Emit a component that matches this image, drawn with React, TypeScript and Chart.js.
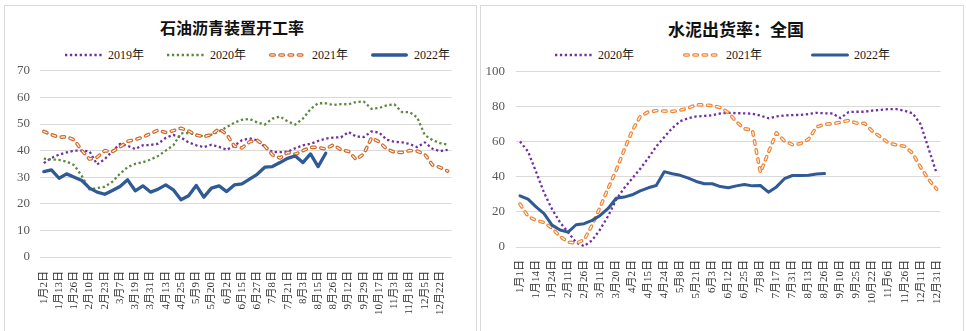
import React, { useEffect, useRef } from 'react';
import { Chart, registerables } from 'chart.js';

Chart.register(...registerables);

// ---------------- data: 石油沥青装置开工率 ----------------
const asphaltTitle = '石油沥青装置开工率';
const asphaltTickLabels = [
  '1月2日', '1月13日', '1月26日', '2月10日', '2月23日', '3月7日', '3月19日', '3月31日', '4月13日',
  '4月25日', '5月9日', '5月20日', '6月2日', '6月15日', '6月27日', '7月8日', '7月21日', '8月3日',
  '8月15日', '8月26日', '9月12日', '9月29日', '10月17日', '11月3日', '11月18日', '12月5日', '12月22日',
];
const asphaltSeriesNames = ['2019年', '2020年', '2021年', '2022年'];
const asphalt2019 = [
  35.3, 37.2, 38.5, 39.3, 40, 40, 39.7, 34.8, 36.8, 39.8,
  42.5, 41.8, 40.6, 42, 42.1, 42.6, 44.8, 45.9, 44.9, 43.1,
  42, 41.3, 42.2, 41.4, 40.3, 41.8, 43.9, 44.6, 43.9, 41.4,
  39.5, 39.4, 39.6, 40.9, 42, 42.6, 43.6, 44.5, 44.9, 45,
  47, 45.3, 45.1, 47.2, 46.8, 44.1, 43.3, 43.1, 42.5, 41.3,
  43.1, 40.7, 39.8, 40.3,
];
const asphalt2020 = [
  37.0, 36.7, 36.5, 35.9, 34.5, 30.4, 25.4, 25.9, 26.4, 28.3,
  31.3, 33.8, 35, 35.6, 36.6, 38, 40, 42, 46.5, 46.6,
  46, 45.4, 46, 47.2, 48.8, 50.5, 51.6, 51.9, 50.6, 49.8,
  52, 52.8, 51, 49.8, 52, 55.6, 57.8, 57.8, 57.1, 57.5,
  57.4, 58.3, 58.4, 55.7, 56, 57, 57.4, 54.5, 54.5, 52.5,
  45.8, 44, 42.8, 42.2,
];
const asphalt2021 = [
  47.2, 46, 45, 45.2, 44, 40, 36.8, 37.5, 40, 39.6,
  41.4, 43.5, 44.2, 45, 46.4, 47.7, 46.8, 47.5, 48.4, 47.4,
  45.8, 45.25, 46, 48.2, 46.1, 41.7, 41, 43.3, 43.9, 41.7,
  38.4, 37.2, 39.3, 38.6, 40, 41.2, 41.2, 40.6, 42.2, 40.3,
  39.7, 36.6, 38.8, 44.8, 43.3, 40.6, 39.4, 39.3, 40, 39.8,
  38.6, 34.6, 33.7, 32.3,
];
const asphalt2022 = [
  32.1, 32.75, 29.6, 31.25, 30.0, 28.75, 25.9, 24.4, 23.6, 25.0,
  26.5, 29, 24.9, 26.75, 24.4, 25.5, 27.1, 25.25, 21.5, 23,
  26.9, 22.5, 25.9, 26.75, 24.6, 27.1, 27.5, 29.3, 31.1, 33.75,
  34, 35.5, 37.1, 38, 35.5, 38.75, 34, 39,
];
const asphaltYMax = 70;
const asphaltYStep = 10;

// ---------------- data: 水泥出货率：全国 ----------------
const cementTitle = '水泥出货率：全国';
const cementTickLabels = [
  '1月1日', '1月14日', '1月24日', '2月11日', '2月26日', '3月11日', '3月20日', '4月2日', '4月15日',
  '4月24日', '5月8日', '5月21日', '6月3日', '6月12日', '6月25日', '7月8日', '7月17日', '7月31日',
  '8月13日', '8月26日', '9月10日', '9月25日', '10月22日', '11月6日', '11月26日', '12月11日', '12月31日',
];
const cementSeriesNames = ['2020年', '2021年', '2022年'];
const cement2020 = [
  60.2, 54.5, 43, 31, 21.6, 14, 8.4, 2.6, 0.5, 3.8,
  10, 17.7, 27, 33.6, 39.1, 44.7, 50.7, 57.4, 62.7, 67.9,
  71.8, 73.5, 74.5, 74.8, 75.2, 76.2, 76.6, 76.4, 76.3, 76.1,
  75, 73.5, 74.5, 75.1, 75.3, 75.4, 75.9, 76.6, 76.3, 76.2,
  73.6, 77, 77.2, 77.2, 77.9, 78.3, 78.7, 78.7, 77.8, 76.3,
  70, 56, 42,
];
const cement2021 = [
  24.5, 17.5, 15.2, 14, 10.7, 6, 2.8, 2.3, 4, 12.5,
  22.8, 33.5, 43.8, 55.4, 66.3, 74.5, 77.1, 77.8, 77.6, 77.4,
  78.1, 79.3, 81.2, 81.1, 80.7, 79.6, 76.7, 71.5, 67.5, 66.8,
  42.5, 54, 65.2, 60.5, 58.4, 59, 61.5, 68.5, 70, 70.4,
  71.2, 72.2, 70.7, 70.6, 66, 62.8, 59.3, 58.2, 57.5, 53.5,
  45.5, 38.5, 33,
];
const cement2022 = [
  29.2, 27.3, 22.9, 19.1, 12.5, 9.7, 8.5, 12.7, 13.3, 15.2,
  18, 22, 27.8, 28.5, 29.8, 32, 33.8, 35.1, 43, 41.8,
  40.9, 39.3, 37.4, 36.1, 36.1, 34.5, 33.8, 34.9, 35.7, 34.9,
  35.1, 31.3, 34.3, 39, 40.8, 40.8, 41, 41.7, 41.9,
];
const cementYMax = 100;
const cementYStep = 20;

// each shown date label is followed by one unlabeled week
const asphaltCategories = asphaltTickLabels.flatMap((l) => [l, '']);
const cementCategories = cementTickLabels.flatMap((l) => [l, '']).slice(0, cement2020.length);

// ---------------- styles ----------------
type LineStyle = {
  color: string;
  width: number;
  dash: number[];
  cap: 'butt' | 'round';
  hollow?: boolean;
  inner?: number;
};

const purpleDots: LineStyle = { color: '#7030A0', width: 2.3, dash: [2.3, 2.6], cap: 'butt' };
const greenDots: LineStyle = { color: '#5B8B3A', width: 2.3, dash: [2.3, 2.6], cap: 'butt' };
const orangeDarkDash: LineStyle = { color: '#D06A2A', width: 3.6, dash: [3.4, 5.8], cap: 'round', hollow: true, inner: 1.2 };
const orangeDash: LineStyle = { color: '#EE8535', width: 3.6, dash: [3.4, 5.8], cap: 'round', hollow: true, inner: 1.2 };
const blueSolid: LineStyle = { color: '#2F5A96', width: 3.3, dash: [], cap: 'round' };
const blueSolidR: LineStyle = { color: '#2F5A96', width: 3.0, dash: [], cap: 'round' };

const SERIF = '"Liberation Serif", "Noto Sans CJK SC", serif';
const CJK = '"Noto Sans CJK SC", "Liberation Serif", sans-serif';

function buildDatasets(names: string[], series: number[][], styles: LineStyle[]) {
  const out: any[] = [];
  series.forEach((data, k) => {
    const st = styles[k];
    const base = (series.length - k) * 2;
    out.push({
      label: names[k],
      data,
      borderColor: st.color,
      backgroundColor: st.color,
      borderWidth: st.width,
      borderDash: st.dash,
      borderCapStyle: st.cap,
      borderJoinStyle: 'round',
      pointRadius: 0,
      pointHoverRadius: 0,
      fill: false,
      tension: 0,
      order: base,
    });
    if (st.hollow) {
      out.push({
        label: names[k] + ' ',
        data,
        borderColor: '#ffffff',
        backgroundColor: '#ffffff',
        borderWidth: st.inner,
        borderDash: st.dash,
        borderCapStyle: st.cap,
        borderJoinStyle: 'round',
        pointRadius: 0,
        pointHoverRadius: 0,
        fill: false,
        tension: 0,
        order: base - 1,
      });
    }
  });
  return out;
}

type ChartProps = {
  left: number;
  top: number;
  width: number;
  height: number;
  categories: string[];
  names: string[];
  series: number[][];
  styles: LineStyle[];
  yMax: number;
  yStep: number;
  padRight: number;
  axisWidth: number;
  xAxisHeight: number;
  yTickPad: number;
  xTickPad: number;
};

function LineChart(p: ChartProps) {
  const ref = useRef<HTMLCanvasElement>(null);
  useEffect(() => {
    const chart = new Chart(ref.current as HTMLCanvasElement, {
      type: 'line',
      data: { labels: p.categories, datasets: buildDatasets(p.names, p.series, p.styles) },
      options: {
        animation: false,
        responsive: false,
        maintainAspectRatio: false,
        devicePixelRatio: 1,
        layout: { padding: { top: 0, right: p.padRight, bottom: 0, left: 0 } },
        plugins: {
          legend: { display: false },
          title: { display: false },
          tooltip: { enabled: false },
        },
        scales: {
          x: {
            type: 'category',
            offset: true,
            grid: { display: false, drawTicks: false },
            border: { display: false },
            ticks: {
              autoSkip: false,
              minRotation: 90,
              maxRotation: 90,
              padding: p.xTickPad,
              color: '#333333',
              font: { family: SERIF, size: 11 },
            },
            afterFit: (s: any) => {
              s.height = p.xAxisHeight;
            },
          },
          y: {
            min: 0,
            max: p.yMax,
            grid: { color: '#d9d9d9', lineWidth: 1, drawTicks: false },
            border: { display: false },
            ticks: {
              stepSize: p.yStep,
              padding: p.yTickPad,
              color: '#595959',
              font: { family: SERIF, size: 13 },
            },
            afterFit: (s: any) => {
              s.width = p.axisWidth;
            },
          },
        },
      } as any,
    });
    return () => chart.destroy();
  }, []);
  return (
    <canvas
      ref={ref}
      width={p.width}
      height={p.height}
      style={{ position: 'absolute', left: p.left, top: p.top, width: p.width, height: p.height }}
    />
  );
}

function LegendSample({ st, w }: { st: LineStyle; w: number }) {
  const h = 10;
  const inset = st.cap === 'round' ? st.width / 2 : 0;
  return (
    <svg width={w} height={h} style={{ display: 'block' }}>
      <line
        x1={inset}
        y1={h / 2}
        x2={w - inset}
        y2={h / 2}
        stroke={st.color}
        strokeWidth={st.width}
        strokeDasharray={st.dash.length ? st.dash.join(' ') : undefined}
        strokeLinecap={st.cap}
      />
      {st.hollow && (
        <line
          x1={inset}
          y1={h / 2}
          x2={w - inset}
          y2={h / 2}
          stroke="#ffffff"
          strokeWidth={st.inner}
          strokeDasharray={st.dash.join(' ')}
          strokeLinecap={st.cap}
        />
      )}
    </svg>
  );
}

function Legend(props: {
  left: number;
  top: number;
  names: string[];
  styles: LineStyle[];
  sampleW: number;
  textGap: number;
  itemGap: number;
}) {
  return (
    <div
      style={{
        position: 'absolute',
        left: props.left,
        top: props.top,
        display: 'flex',
        alignItems: 'center',
        gap: props.itemGap,
        height: 12,
      }}
    >
      {props.names.map((n, i) => (
        <div key={n} style={{ display: 'flex', alignItems: 'center' }}>
          <LegendSample st={props.styles[i]} w={props.sampleW} />
          <span
            style={{
              marginLeft: props.textGap,
              fontFamily: SERIF,
              fontSize: 12,
              lineHeight: '12px',
              color: '#1a1a1a',
              whiteSpace: 'nowrap',
            }}
          >
            {n}
          </span>
        </div>
      ))}
    </div>
  );
}

function Title({ text, cx, top, size }: { text: string; cx: number; top: number; size: number }) {
  return (
    <div
      style={{
        position: 'absolute',
        left: cx,
        top,
        transform: 'translateX(-50%)',
        fontFamily: CJK,
        fontWeight: 700,
        fontSize: size,
        lineHeight: size + 'px',
        color: '#111111',
        whiteSpace: 'nowrap',
      }}
    >
      {text}
    </div>
  );
}

export default function App() {
  const panel = {
    position: 'absolute' as const,
    border: '1px solid #d9d9d9',
    boxSizing: 'border-box' as const,
    background: '#ffffff',
  };
  return (
    <div
      style={{
        position: 'fixed',
        left: 0,
        top: 0,
        width: 966,
        height: 331,
        background: '#ffffff',
        overflow: 'hidden',
      }}
    >
      <div style={{ ...panel, left: 4, top: 5, width: 473, height: 340 }} />
      <div style={{ ...panel, left: 480, top: 5, width: 484, height: 340 }} />

      <Title text={asphaltTitle} cx={232} top={19} size={16} />
      <Legend
        left={65}
        top={49}
        names={asphaltSeriesNames}
        styles={[purpleDots, greenDots, orangeDarkDash, blueSolid]}
        sampleW={37}
        textGap={6}
        itemGap={23}
      />
      <LineChart
        left={5}
        top={53}
        width={470}
        height={272}
        categories={asphaltCategories}
        names={asphaltSeriesNames}
        series={[asphalt2019, asphalt2020, asphalt2021, asphalt2022]}
        styles={[purpleDots, greenDots, orangeDarkDash, blueSolid]}
        yMax={asphaltYMax}
        yStep={asphaltYStep}
        padRight={15}
        axisWidth={35}
        xAxisHeight={68}
        yTickPad={10}
        xTickPad={14}
      />

      <Title text={cementTitle} cx={736} top={20} size={17} />
      <Legend
        left={555}
        top={49}
        names={cementSeriesNames}
        styles={[purpleDots, orangeDash, blueSolidR]}
        sampleW={38}
        textGap={5}
        itemGap={49}
      />
      <LineChart
        left={481}
        top={53}
        width={482}
        height={262}
        categories={cementCategories}
        names={cementSeriesNames}
        series={[cement2020, cement2021, cement2022]}
        styles={[purpleDots, orangeDash, blueSolidR]}
        yMax={cementYMax}
        yStep={cementYStep}
        padRight={12}
        axisWidth={35}
        xAxisHeight={68}
        yTickPad={11}
        xTickPad={13}
      />
    </div>
  );
}
